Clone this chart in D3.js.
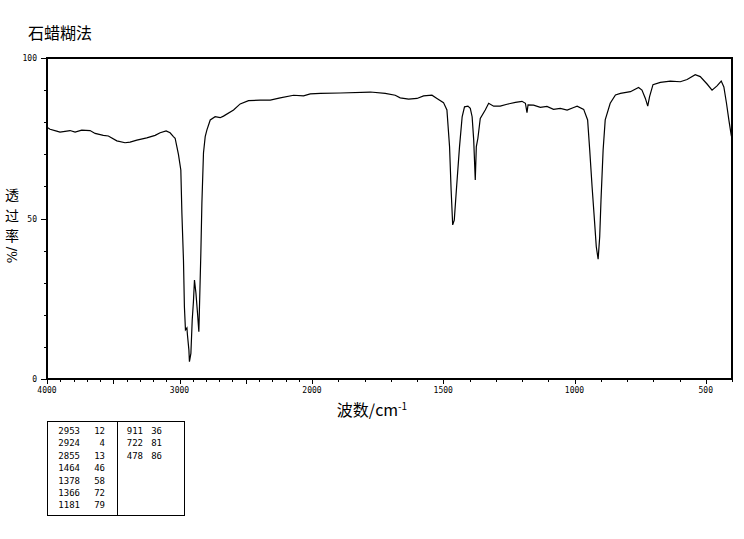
<!DOCTYPE html>
<html>
<head>
<meta charset="utf-8">
<script src="https://cdn.jsdelivr.net/npm/d3@7"></script>
<style>
  body { margin: 0; background: #fff; }
  text { fill: #000; }
</style>
</head>
<body>
<svg id="chart" width="744" height="539"></svg>
<script>
// spectrum trace: wavenumber (cm-1) and transmittance (%)
var wavenumbers = [4000,3977,3927,3902,3826,3788,3738,3675,3637,3575,3537,3473,3411,3373,3322,3247,3184,3146,3101,3071,3046,3033,3020,3008,2990,2982,2970,2963,2955,2944,2940,2929,2925,2914,2904,2895,2887,2876,2864,2854,2846,2839,2831,2819,2806,2793,2768,2731,2693,2668,2592,2542,2479,2391,2315,2240,2139,2064,2013,1968,1892,1778,1721,1683,1664,1632,1600,1575,1543,1524,1499,1486,1476,1470,1464,1458,1450,1438,1428,1419,1406,1397,1390,1384,1378,1374,1368,1359,1340,1327,1308,1283,1257,1225,1200,1187,1181,1177,1156,1130,1105,1080,1054,1028,1003,990,965,950,942,933,924,917,910,904,899,891,883,864,844,825,787,756,743,730,721,714,701,673,635,597,571,540,521,495,476,457,441,431,421,412,403,400];
var transmittance = [78.4,77.8,77.2,76.9,77.4,76.9,77.5,77.4,76.5,75.9,75.7,74.2,73.6,73.8,74.4,75.1,75.9,76.7,77.3,76.7,75.5,75.0,72.4,70.0,65.1,51.7,37,22.5,15.3,15.9,13.7,9,5.4,8,18.4,24,30.8,26.8,20.5,14.7,27.7,39,54.8,70.4,75.5,77.6,80.7,81.7,81.4,81.9,83.8,85.7,86.7,86.9,86.9,87.6,88.4,88.2,88.8,89,89.1,89.4,89.0,88.4,87.6,87.2,87.4,88.2,88.4,87.4,86.1,83.8,72.4,58.9,48,49.5,58.9,72.4,81.7,84.8,85,84.3,81.7,74.5,62,72.4,75,81.2,83.8,85.9,85,85,85.6,86.2,86.5,85.9,83,85.4,85.3,84.6,84.9,84,84.3,83.8,84.6,85,84,80.7,71.3,59.9,49.5,41.2,37.3,44.3,55.8,71.3,80.7,85.9,88.5,89,89.5,90.8,90,87.4,85,88,91.7,92.4,92.8,92.6,93.3,94.8,94.2,91.9,90,91.3,92.8,91,85.9,80.7,76,75];

// peak table
var peakWn = [2953, 2924, 2855, 1464, 1378, 1366, 1181, 911, 722, 478];
var peakT = [12, 4, 13, 46, 58, 72, 79, 36, 81, 86];

var xTickLabels = [4000, 3000, 2000, 1500, 1000, 500];
var yTickLabels = [0, 50, 100];

var svg = d3.select("#chart");
var plotL = 47, plotR = 732, plotT = 58, plotB = 379;

// the x axis changes scale at 2000 cm-1
var x = d3.scaleLinear().domain([4000, 2000, 400]).range([plotL, 312, plotR]);
var y = d3.scaleLinear().domain([0, 100]).range([plotB, plotT]);

var tickFont = "'DejaVu Sans Mono', monospace";

// title
svg.append("text")
    .attr("x", 28).attr("y", 39)
    .style("font-family", "'Noto Sans CJK SC', sans-serif")
    .style("font-size", "16px")
    .text("石蜡糊法");

// frame
svg.append("path")
    .attr("d", "M" + plotL + "," + plotB + "V" + plotT + "H" + plotR + "V" + plotB + "H" + plotL)
    .attr("fill", "none").attr("stroke", "#000").attr("stroke-width", 1.3)
    .attr("shape-rendering", "crispEdges");

// x ticks every 100, longer every 500
var xt = d3.range(400, 4001, 100);
svg.selectAll("line.xt").data(xt).enter().append("line")
    .attr("class", "xt")
    .attr("x1", d => Math.round(x(d)) + 0.5).attr("x2", d => Math.round(x(d)) + 0.5)
    .attr("y1", plotB).attr("y2", d => plotB + (d % 500 === 0 ? 5 : 3))
    .attr("stroke", "#000");

svg.selectAll("text.xl").data(xTickLabels).enter().append("text")
    .attr("class", "xl")
    .attr("x", d => x(d)).attr("y", plotB + 14)
    .attr("text-anchor", "middle")
    .style("font-family", tickFont).style("font-size", "8px")
    .text(d => d);

// y ticks every 10
var yt = d3.range(0, 101, 10);
svg.selectAll("line.yt").data(yt).enter().append("line")
    .attr("class", "yt")
    .attr("x1", d => plotL - (d % 50 === 0 ? 6 : 3)).attr("x2", plotL)
    .attr("y1", d => Math.round(y(d)) + 0.5).attr("y2", d => Math.round(y(d)) + 0.5)
    .attr("stroke", "#000");

svg.selectAll("text.yl").data(yTickLabels).enter().append("text")
    .attr("class", "yl")
    .attr("x", plotL - 10).attr("y", d => y(d) + 3)
    .attr("text-anchor", "end")
    .style("font-family", tickFont).style("font-size", "8px")
    .text(d => d);

// y label: CJK characters stacked, "/%" turned sideways below
var cjk = "'Noto Sans CJK SC', sans-serif";
var yl = svg.append("text")
    .attr("text-anchor", "middle")
    .style("font-family", cjk).style("font-size", "14px");
["透", "过", "率"].forEach(function(c, i) {
  yl.append("tspan").attr("x", 12).attr("y", 200 + i * 20.5).text(c);
});
svg.append("text")
    .attr("transform", "translate(7,255) rotate(90)")
    .attr("text-anchor", "middle")
    .style("font-family", "'DejaVu Serif', serif").style("font-size", "13px")
    .text("/%");

// x label
var xl = svg.append("text")
    .attr("x", 372).attr("y", 416)
    .attr("text-anchor", "middle")
    .style("font-family", cjk).style("font-size", "16px");
xl.append("tspan").text("波数/cm");
xl.append("tspan").attr("dy", -6).style("font-size", "10px").text("-1");

// spectrum
var pts = wavenumbers.map((w, i) => [w, transmittance[i]]);
var line = d3.line().x(d => x(d[0])).y(d => y(d[1]));
svg.append("path")
    .datum(pts)
    .attr("d", line)
    .attr("fill", "none")
    .attr("stroke", "#000")
    .attr("stroke-width", 1.2);

// peak table
var tx = 47, ty = 421, tw = 137, th = 94, split = 117;
svg.append("rect")
    .attr("x", tx + 0.5).attr("y", ty + 0.5).attr("width", tw).attr("height", th)
    .attr("fill", "none").attr("stroke", "#000");
svg.append("line")
    .attr("x1", split + 0.5).attr("x2", split + 0.5)
    .attr("y1", ty).attr("y2", ty + th)
    .attr("stroke", "#000");

var rows = peakWn.map((w, i) => ({w: w, t: peakT[i], col: i < 7 ? 0 : 1, row: i < 7 ? i : i - 7}));
var g = svg.append("g")
    .style("font-family", tickFont).style("font-size", "9px");
g.selectAll("text.pw").data(rows).enter().append("text")
    .attr("x", d => d.col === 0 ? 80 : 143)
    .attr("y", d => ty + 13 + d.row * 12.4)
    .attr("text-anchor", "end")
    .text(d => d.w);
g.selectAll("text.pt").data(rows).enter().append("text")
    .attr("x", d => d.col === 0 ? 105 : 162)
    .attr("y", d => ty + 13 + d.row * 12.4)
    .attr("text-anchor", "end")
    .text(d => d.t);
</script>
</body>
</html>
